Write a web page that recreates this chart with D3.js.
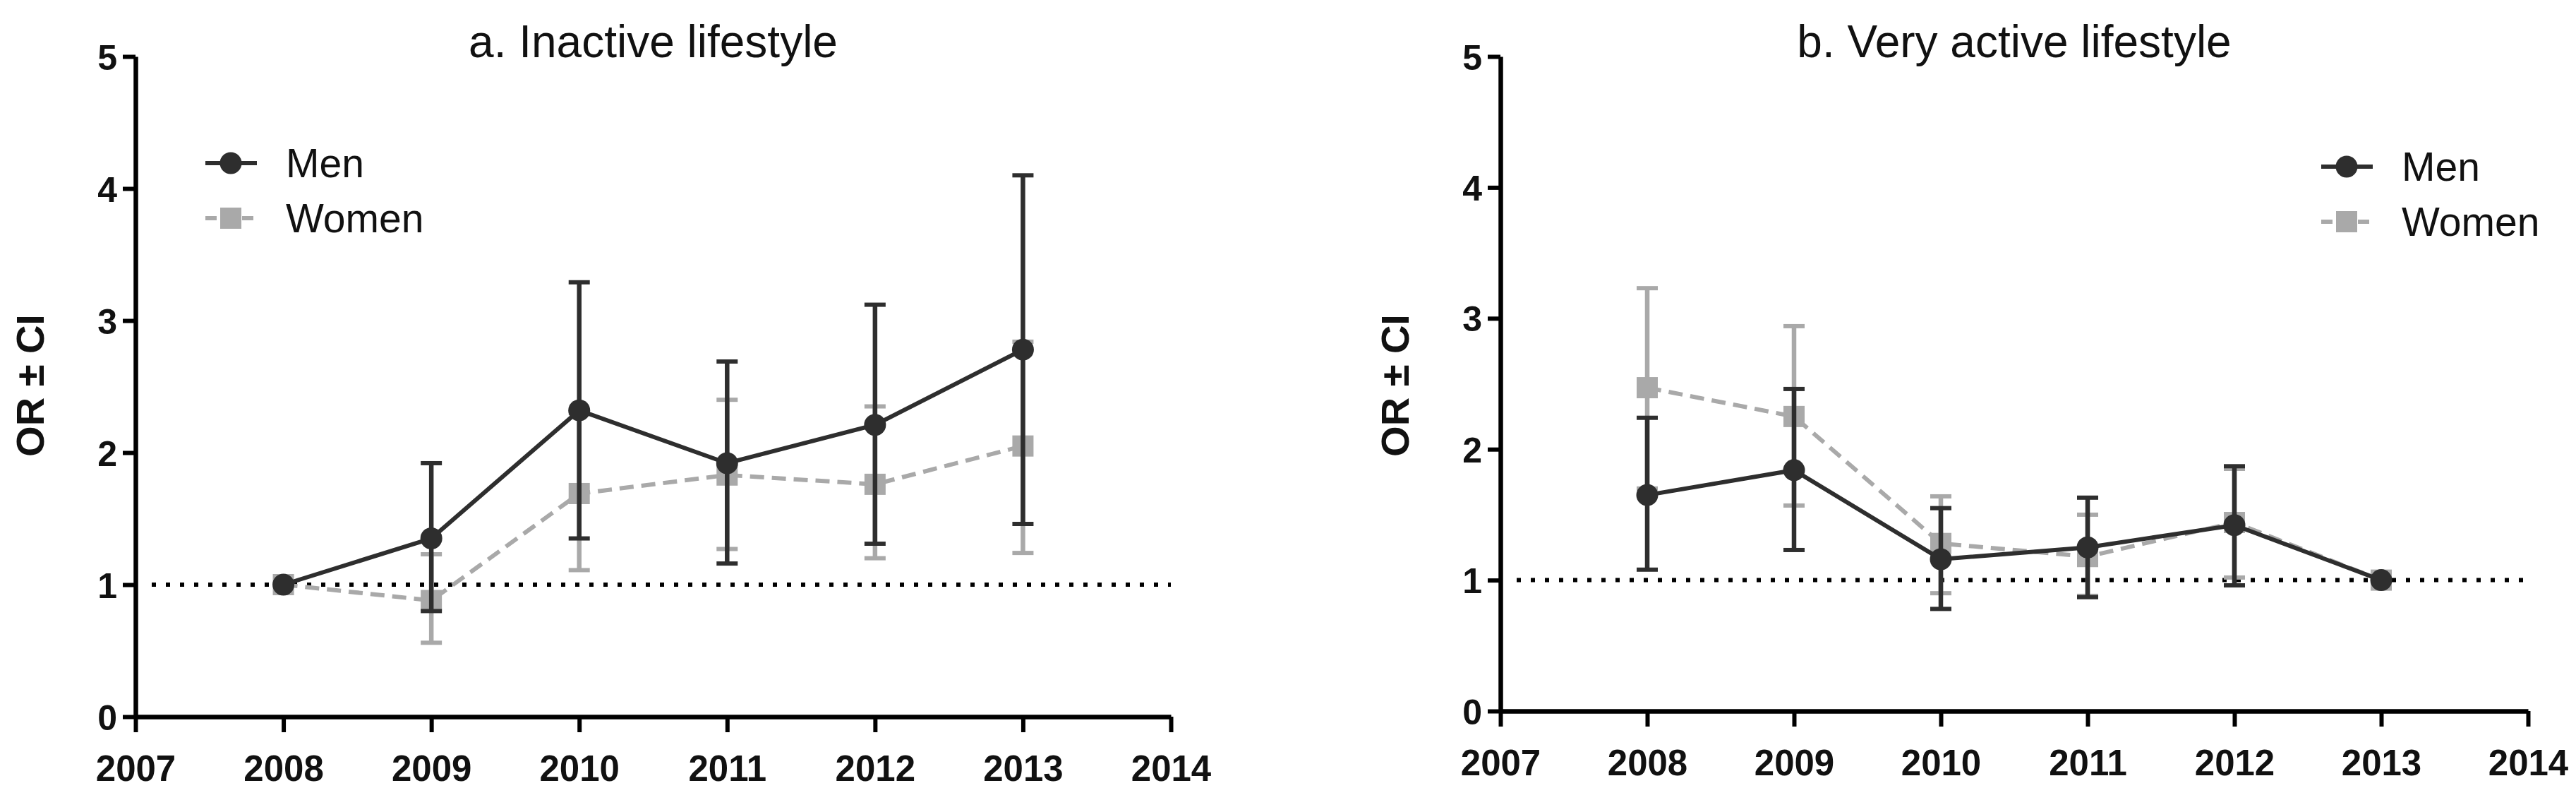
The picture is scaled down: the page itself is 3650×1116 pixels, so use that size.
<!DOCTYPE html>
<html>
<head>
<meta charset="utf-8">
<script src="https://cdn.jsdelivr.net/npm/d3@7"></script>
<style>
  body { margin: 0; background: #fff; }
  svg { display: block; }
  text { font-family: "Liberation Sans", Arial, Helvetica, sans-serif; }
</style>
</head>
<body>
<div id="chart"></div>
<script>
// ---- data ----
var years = [2008, 2009, 2010, 2011, 2012, 2013];
var xTicks = [2007, 2008, 2009, 2010, 2011, 2012, 2013, 2014];
var yTicks = [0, 1, 2, 3, 4, 5];
var seriesNames = ["Men", "Women"];

// a. Inactive lifestyle
var inactiveMenOR   = [1.00, 1.35, 2.32, 1.92, 2.21, 2.78];
var inactiveMenLow  = [null, 0.80, 1.35, 1.16, 1.31, 1.46];
var inactiveMenHigh = [null, 1.92, 3.29, 2.69, 3.12, 4.10];
var inactiveWomenOR   = [1.00, 0.88, 1.69, 1.83, 1.76, 2.05];
var inactiveWomenLow  = [null, 0.56, 1.11, 1.27, 1.20, 1.24];
var inactiveWomenHigh = [null, 1.23, 2.30, 2.40, 2.35, 2.84];

// b. Very active lifestyle
var activeMenOR   = [1.65, 1.84, 1.16, 1.25, 1.42, 1.00];
var activeMenLow  = [1.08, 1.23, 0.78, 0.87, 0.96, null];
var activeMenHigh = [2.24, 2.46, 1.55, 1.63, 1.87, null];
var activeWomenOR   = [2.47, 2.25, 1.28, 1.18, 1.44, 1.00];
var activeWomenLow  = [1.70, 1.57, 0.90, 0.88, 1.02, null];
var activeWomenHigh = [3.23, 2.94, 1.64, 1.50, 1.85, null];

var refValue = 1;

function rows(or, low, high) {
    return years.map(function(y, i) {
        return { year: y, or: or[i], low: low[i], high: high[i] };
    });
}

var panels = [
    {
        title: "a. Inactive lifestyle",
        left: 192, right: 1659, bottom: 1015, top: 80,
        legendX: 327, legendY: 231,
        men: rows(inactiveMenOR, inactiveMenLow, inactiveMenHigh),
        women: rows(inactiveWomenOR, inactiveWomenLow, inactiveWomenHigh)
    },
    {
        title: "b. Very active lifestyle",
        left: 2126, right: 3582, bottom: 1007, top: 80,
        legendX: 3325, legendY: 236,
        men: rows(activeMenOR, activeMenLow, activeMenHigh),
        women: rows(activeWomenOR, activeWomenLow, activeWomenHigh)
    }
];

var menColor = "#2e2e2e";
var womenColor = "#a9a9a9";
var womenDash = "20 11";

var svg = d3.select("#chart").append("svg")
    .attr("width", 3650)
    .attr("height", 1116);

panels.forEach(function(p) {
    var x = d3.scaleLinear().domain([2007, 2014]).range([p.left, p.right]);
    var y = d3.scaleLinear().domain([0, 5]).range([p.bottom, p.top]);
    var g = svg.append("g");

    // title
    g.append("text")
        .attr("x", (p.left + p.right) / 2)
        .attr("y", 81)
        .attr("text-anchor", "middle")
        .style("font-size", "64px")
        .style("fill", "#111")
        .text(p.title);

    // y axis title
    g.append("text")
        .attr("transform", "translate(" + (p.left - 130) + ",546) rotate(-90)")
        .attr("text-anchor", "middle")
        .style("font-size", "56px")
        .style("font-weight", "bold")
        .style("fill", "#111")
        .text("OR \u00b1 CI");

    // axes
    var yAxis = g.append("g")
        .attr("transform", "translate(" + p.left + ",0)")
        .call(d3.axisLeft(y).tickValues(yTicks).tickFormat(d3.format("d"))
            .tickSize(18).tickSizeOuter(0).tickPadding(8));
    var xAxis = g.append("g")
        .attr("transform", "translate(0," + p.bottom + ")")
        .call(d3.axisBottom(x).tickValues(xTicks).tickFormat(d3.format("d"))
            .tickSize(22).tickSizeOuter(0).tickPadding(33));
    [xAxis, yAxis].forEach(function(a) {
        a.select(".domain").attr("stroke", "#000").attr("stroke-width", 6.5);
        a.selectAll(".tick line").attr("stroke", "#000").attr("stroke-width", 6);
        a.selectAll(".tick text")
            .style("font-family", "'Liberation Sans', Arial, sans-serif")
            .style("font-weight", "bold")
            .style("fill", "#111");
    });
    xAxis.selectAll(".tick text").style("font-size", "51px");
    yAxis.selectAll(".tick text").style("font-size", "50px").attr("dy", "0.36em");

    // dotted reference line at OR = 1
    g.append("line")
        .attr("x1", p.left + 23).attr("x2", p.right)
        .attr("y1", y(refValue)).attr("y2", y(refValue))
        .attr("stroke", "#000")
        .attr("stroke-width", 6)
        .attr("stroke-dasharray", "6 14");

    var line = d3.line()
        .x(function(d) { return x(d.year); })
        .y(function(d) { return y(d.or); });

    function errorBars(data, color) {
        var withCI = data.filter(function(d) { return d.low !== null; });
        var eb = g.append("g");
        eb.selectAll("line.stem").data(withCI).enter().append("line")
            .attr("x1", function(d) { return x(d.year); })
            .attr("x2", function(d) { return x(d.year); })
            .attr("y1", function(d) { return y(d.low); })
            .attr("y2", function(d) { return y(d.high); })
            .attr("stroke", color).attr("stroke-width", 6.5);
        ["low", "high"].forEach(function(k) {
            eb.selectAll("line.cap" + k).data(withCI).enter().append("line")
                .attr("x1", function(d) { return x(d.year) - 15; })
                .attr("x2", function(d) { return x(d.year) + 15; })
                .attr("y1", function(d) { return y(d[k]); })
                .attr("y2", function(d) { return y(d[k]); })
                .attr("stroke", color).attr("stroke-width", 6);
        });
    }

    // women first (underneath)
    g.append("path").datum(p.women)
        .attr("d", line)
        .attr("fill", "none")
        .attr("stroke", womenColor)
        .attr("stroke-width", 6)
        .attr("stroke-dasharray", womenDash);
    errorBars(p.women, womenColor);
    g.selectAll("rect.w").data(p.women).enter().append("rect")
        .attr("x", function(d) { return x(d.year) - 15; })
        .attr("y", function(d) { return y(d.or) - 15; })
        .attr("width", 30).attr("height", 30)
        .attr("fill", womenColor);

    // men on top
    g.append("path").datum(p.men)
        .attr("d", line)
        .attr("fill", "none")
        .attr("stroke", menColor)
        .attr("stroke-width", 6);
    errorBars(p.men, menColor);
    g.selectAll("circle.m").data(p.men).enter().append("circle")
        .attr("cx", function(d) { return x(d.year); })
        .attr("cy", function(d) { return y(d.or); })
        .attr("r", 15.5)
        .attr("fill", menColor);

    // legend
    var lg = g.append("g").attr("transform", "translate(" + p.legendX + "," + p.legendY + ")");
    seriesNames.forEach(function(name, i) {
        var row = lg.append("g").attr("transform", "translate(0," + (i * 78) + ")");
        if (name === "Men") {
            row.append("line").attr("x1", -36).attr("x2", 37)
                .attr("stroke", menColor).attr("stroke-width", 6);
            row.append("circle").attr("r", 15.5).attr("fill", menColor);
        } else {
            row.append("line").attr("x1", -36).attr("x2", 37)
                .attr("stroke", womenColor).attr("stroke-width", 6)
                .attr("stroke-dasharray", "16 10");
            row.append("rect").attr("x", -15).attr("y", -15)
                .attr("width", 30).attr("height", 30).attr("fill", womenColor);
        }
        row.append("text")
            .attr("x", 78).attr("y", 20)
            .style("font-size", "57px")
            .style("fill", "#111")
            .text(name);
    });
});
</script>
</body>
</html>
